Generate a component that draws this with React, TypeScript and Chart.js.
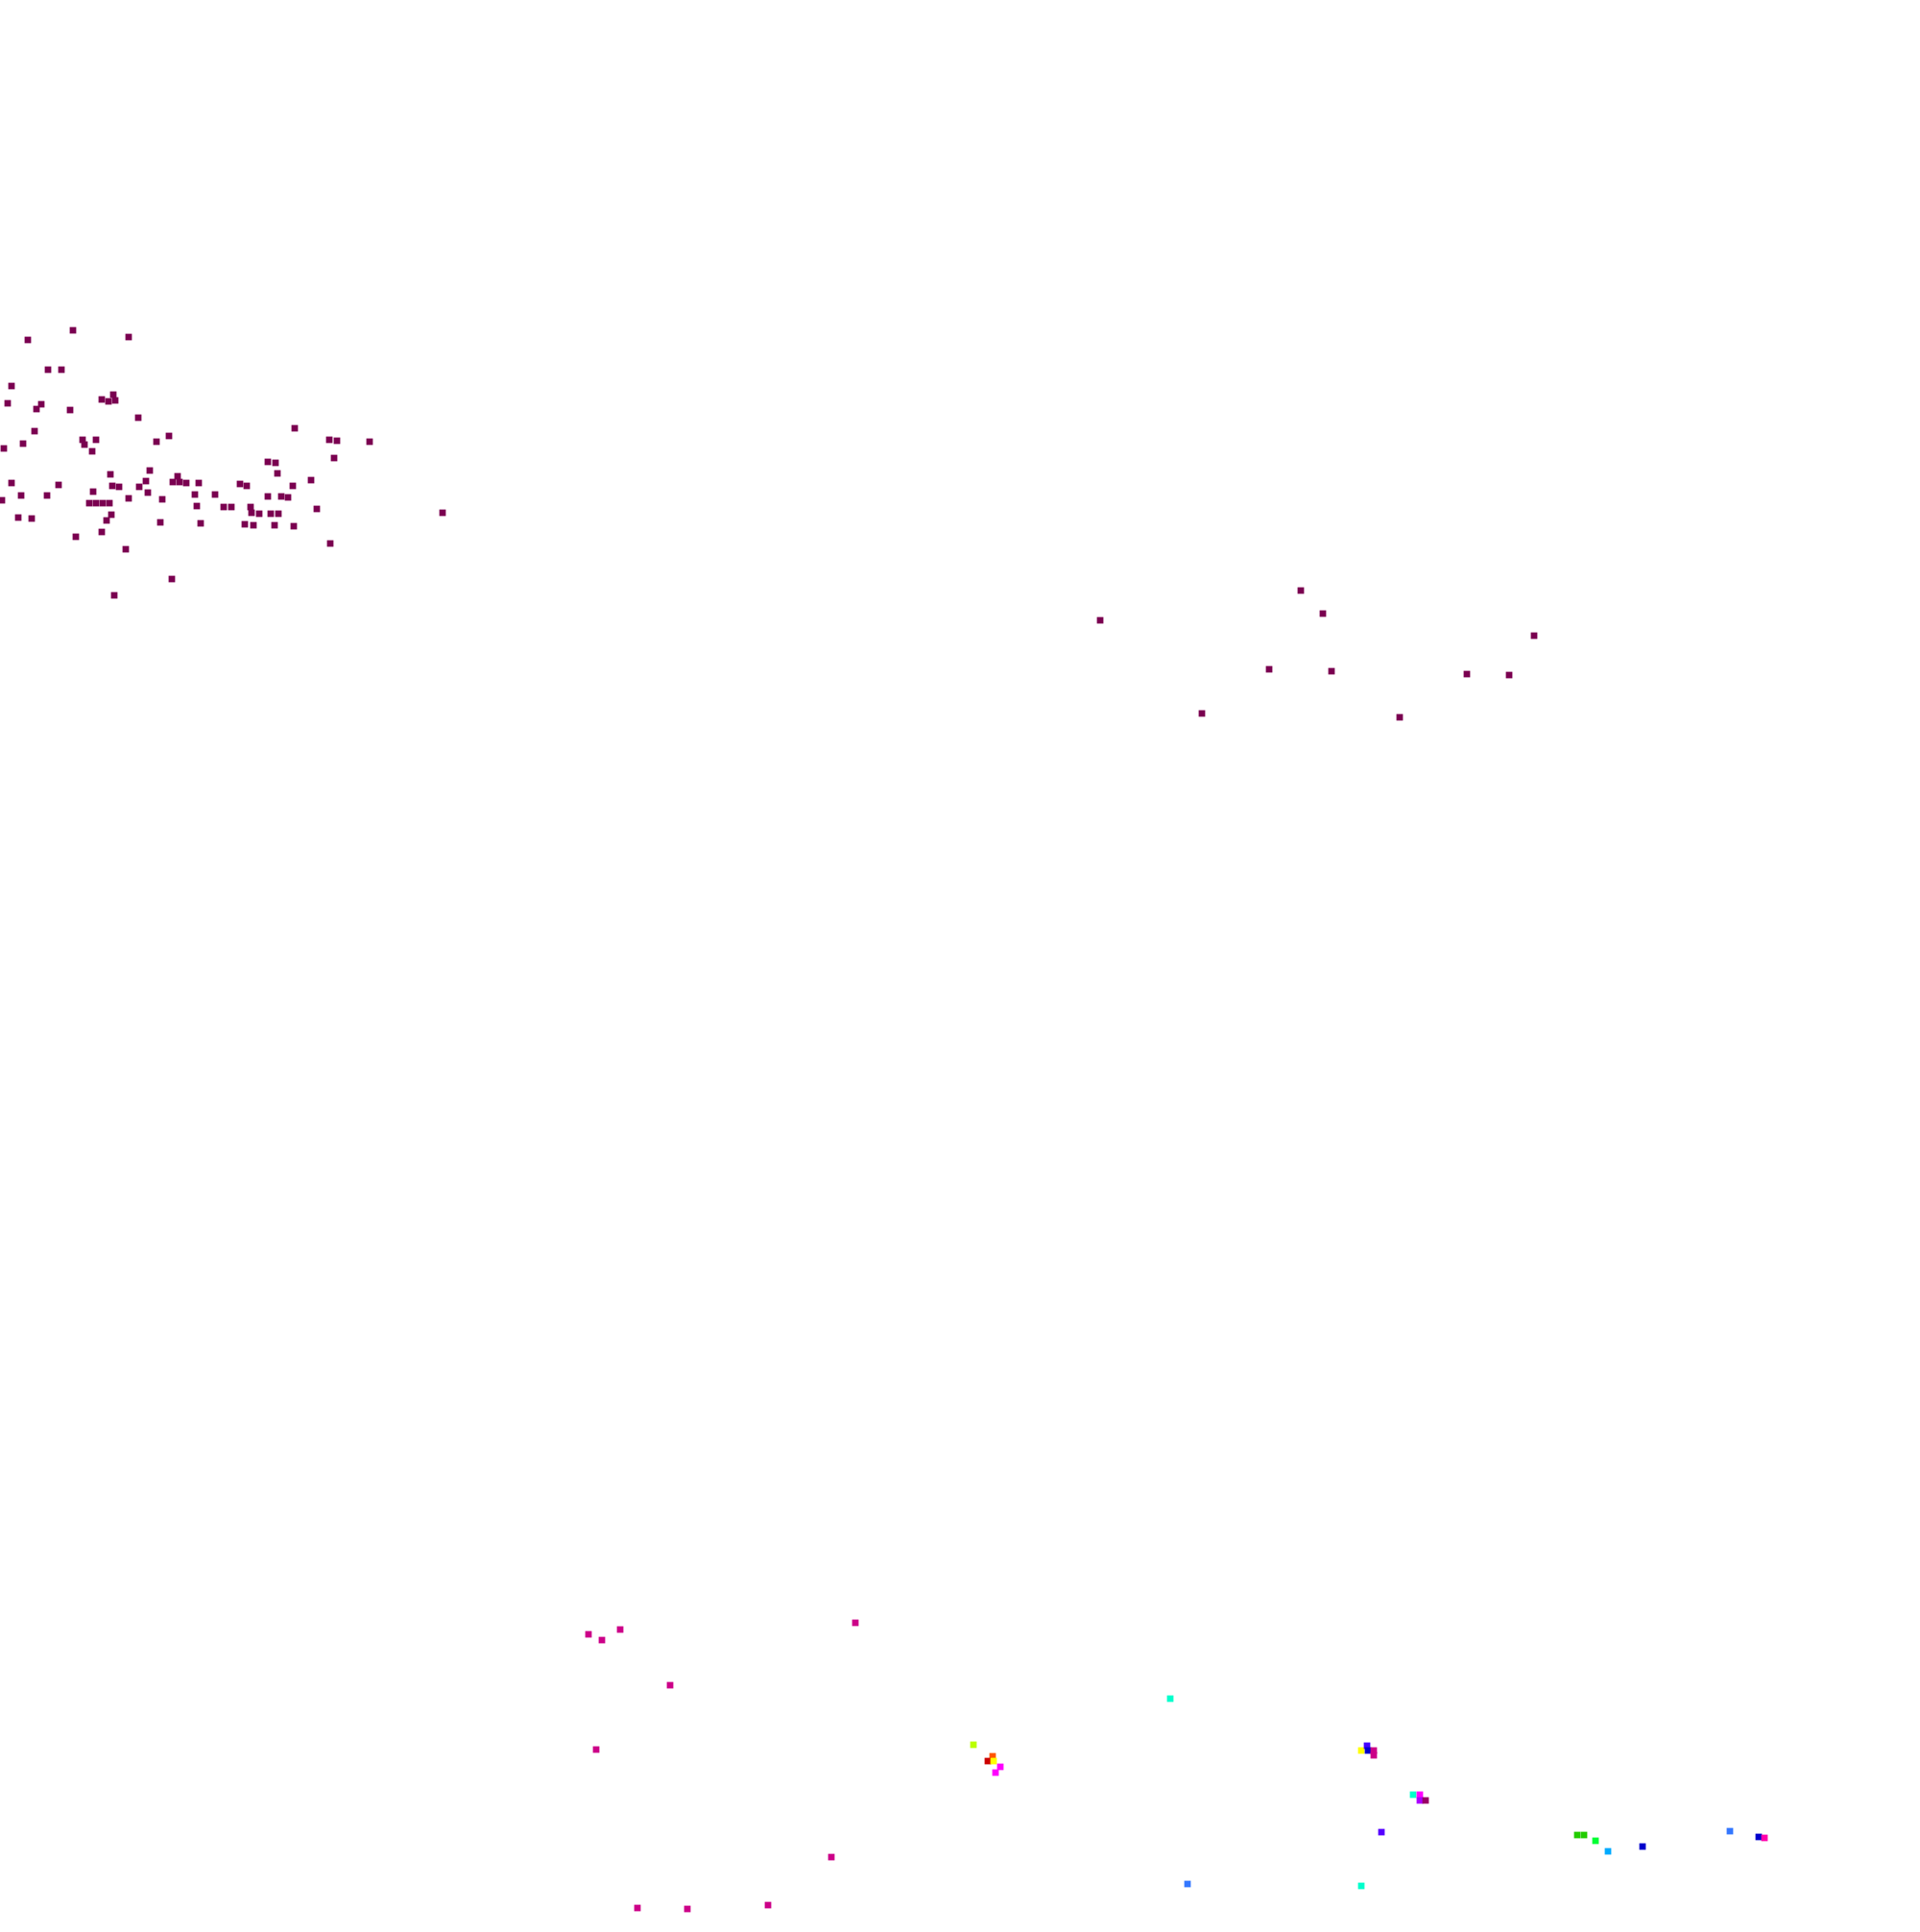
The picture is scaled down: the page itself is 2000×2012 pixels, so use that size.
import React, { useEffect, useRef } from "react";
import { Chart, registerables } from "chart.js";

Chart.register(...registerables);

// Plot extent (data units)
const X_MIN = 0;
const X_MAX = 2000;
const Y_MIN = 0;
const Y_MAX = 2012;

// North-west cluster (dark magenta)
const westX = [
  76, 29, 134, 50, 64, 12, 8, 43, 38, 73, 118, 106, 113, 120, 144, 36, 24, 4, 86, 88, 100, 96, 163, 176,
  156, 12, 22, 2, 49, 61, 19, 33, 79, 97, 115, 117, 124, 93, 100, 107, 114, 116, 111, 106, 134, 131, 119,
  152, 145, 154, 169, 167, 185, 180, 187, 194, 207, 203, 205, 209, 224, 179,
  307, 343, 351, 385, 348, 279, 287,
  289, 250, 257, 305, 324, 279, 293, 300, 233, 241, 261, 262, 270, 282, 290, 330, 255, 264, 286, 306, 344, 461,
];
const westY = [
  344, 354, 351, 385, 385, 402, 420, 421, 426, 427, 411, 416, 418, 417, 435, 449, 462, 467, 458, 463, 458, 470, 460, 454,
  490, 503, 516, 521, 516, 505, 539, 540, 559, 512, 494, 506, 507, 524, 524, 524, 524, 536, 542, 554, 519, 572, 620,
  501, 507, 513, 520, 544, 496, 502, 502, 503, 503, 515, 527, 545, 515, 603,
  446, 458, 459, 460, 477, 481, 482,
  493, 504, 506, 506, 500, 517, 517, 518, 528, 528, 528, 534, 535, 535, 535, 530, 546, 547, 547, 548, 566, 534,
];

// Central cluster (dark magenta)
const centralX = [1146, 1355, 1378, 1322, 1387, 1252, 1458, 1528, 1572, 1598];
const centralY = [646, 615, 639, 697, 699, 743, 747, 702, 703, 662];

// South-west group (pink)
const southX = [613, 627, 646, 891, 698, 621, 866, 800, 664, 716];
const southY = [1702, 1708, 1697, 1690, 1755, 1822, 1934, 1984, 1987, 1988];

// South-east group (mixed categories)
const mixedX = [
  1014, 1034, 1029, 1035, 1042, 1037, 1237,
  1219, 1418, 1424, 1425, 1431, 1431, 1472, 1479, 1479, 1485, 1439, 1418,
  1643, 1650, 1662, 1675, 1711, 1802, 1832, 1838,
];
const mixedY = [
  1817, 1829, 1834, 1834, 1840, 1846, 1962,
  1769, 1823, 1818, 1823, 1823, 1828, 1869, 1869, 1875, 1875, 1908, 1964,
  1911, 1911, 1917, 1928, 1923, 1907, 1913, 1914,
];
const mixedColor = [
  "#bbff00", "#ff5500", "#cc0000", "#ffff00", "#ff00ff", "#ff00ff", "#3377ff",
  "#00ffcc", "#ffff00", "#4400ff", "#0000cc", "#cc0088", "#cc0088", "#00ffcc", "#ff00ff", "#aa00ff", "#990066", "#5500ff", "#00ffcc",
  "#22cc00", "#22cc00", "#00ff33", "#00aaff", "#0000cc", "#3377ff", "#0000cc", "#ff00aa",
];

const toPoints = (xs: number[], ys: number[]) => xs.map((x, i) => ({ x, y: ys[i] }));

export default function App() {
  const ref = useRef<HTMLCanvasElement | null>(null);

  useEffect(() => {
    if (!ref.current) return;
    const common = {
      pointStyle: "rect" as const,
      pointRadius: 4.8,
      pointBorderWidth: 0,
      clip: false as const,
    };
    const chart = new Chart(ref.current, {
      type: "scatter",
      data: {
        datasets: [
          { ...common, label: "west", data: toPoints(westX, westY), backgroundColor: "#7a0050", borderColor: "#7a0050" },
          { ...common, label: "central", data: toPoints(centralX, centralY), backgroundColor: "#7a0050", borderColor: "#7a0050" },
          { ...common, label: "south", data: toPoints(southX, southY), backgroundColor: "#cc0088", borderColor: "#cc0088" },
          { ...common, label: "mixed", data: toPoints(mixedX, mixedY), backgroundColor: mixedColor, borderColor: mixedColor },
        ],
      },
      options: {
        animation: false,
        responsive: false,
        devicePixelRatio: 1,
        layout: { padding: 0, autoPadding: false },
        plugins: { legend: { display: false }, tooltip: { enabled: false } },
        scales: {
          x: { type: "linear", min: X_MIN, max: X_MAX, display: false },
          y: { type: "linear", min: Y_MIN, max: Y_MAX, reverse: true, display: false },
        },
      },
    });
    return () => chart.destroy();
  }, []);

  return (
    <div style={{ position: "fixed", left: 0, top: 0, width: 2000, height: 2012, background: "#ffffff" }}>
      <canvas ref={ref} width={2000} height={2012} style={{ width: 2000, height: 2012, display: "block" }} />
    </div>
  );
}
